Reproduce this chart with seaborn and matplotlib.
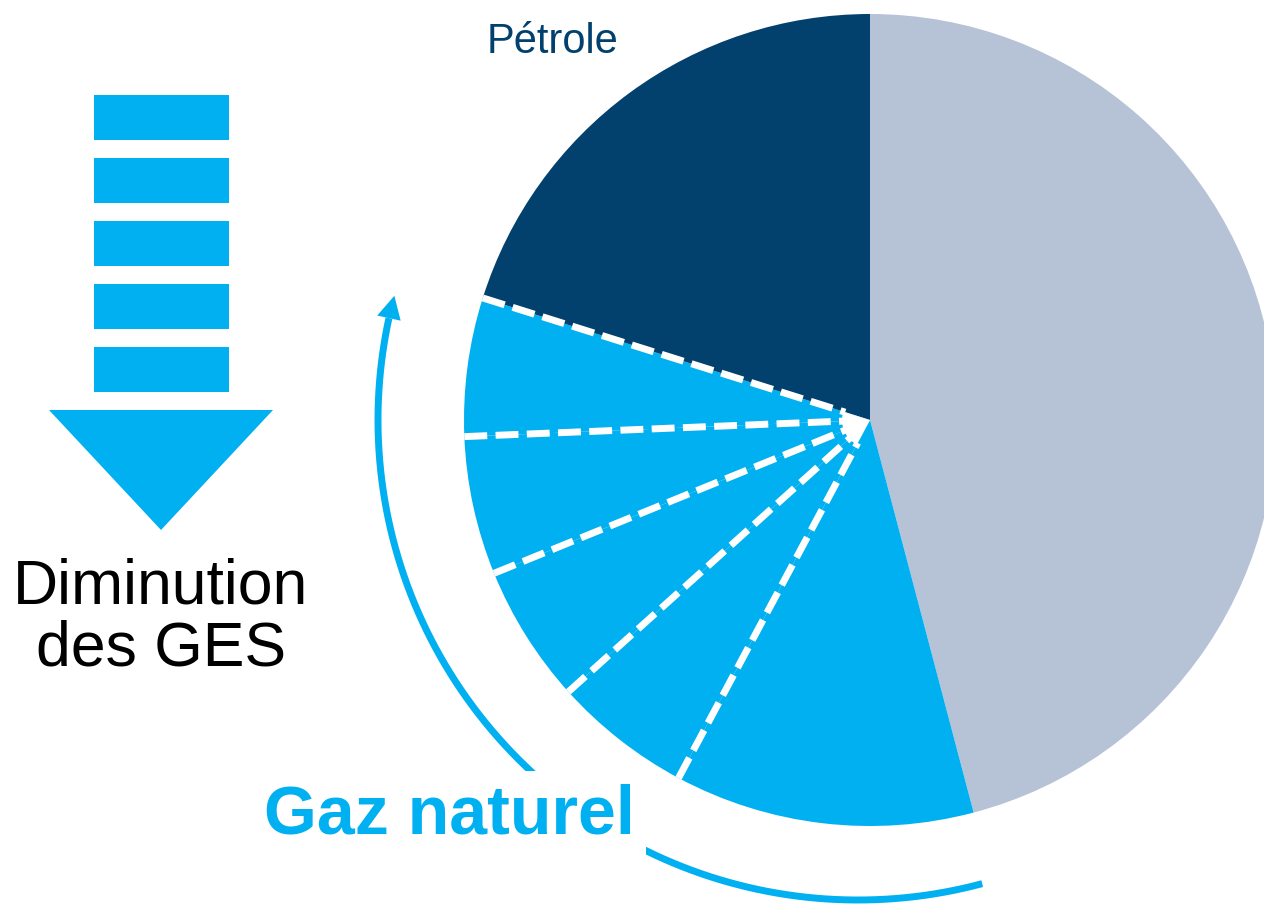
import numpy as np
import matplotlib
matplotlib.use("Agg")
import matplotlib.pyplot as plt
from matplotlib.patches import Rectangle, Polygon, Wedge
import seaborn as sns

# slice data (clockwise from 12 o'clock)
sources = [
    "Autres",
    "Gaz naturel 1",
    "Gaz naturel 2",
    "Gaz naturel 3",
    "Gaz naturel 4",
    "Gaz naturel 5",
    "Pétrole"
]

shares = [45.8, 11.9, 5.5, 5.5, 5.5, 5.5, 20.1]

slice_colors = [
    "#B6C2D6",
    "#00B0F0",
    "#00B0F0",
    "#00B0F0",
    "#00B0F0",
    "#00B0F0",
    "#02406E"
]

sns.set_theme(style="white")
plt.rcParams["font.family"] = ["Liberation Sans", "DejaVu Sans"]

BLUE = "#00B0F0"
NAVY = "#02406E"

W, H = 1264, 906
fig = plt.figure(figsize=(W / 100, H / 100), dpi=100)
ax = fig.add_axes([0, 0, 1, 1])

# pie (pixel coordinates, y measured upward)
cx, cy, R = 870, H - 420, 406
ax.pie(
    shares,
    colors=slice_colors,
    startangle=90,
    counterclock=False,
    radius=R,
    center=(cx, cy),
    wedgeprops=dict(linewidth=0),
    frame=True
)

# dashed white separators between the gas slices and oil
cum = np.cumsum(shares) / np.sum(shares) * 360
bounds = 90 - cum
for a in bounds[1:6]:
    t = np.radians(a)
    ax.plot(
        [cx + R * np.cos(t), cx + 26 * np.cos(t)],
        [cy + R * np.sin(t), cy + 26 * np.sin(t)],
        color="white",
        lw=5,
        linestyle=(0, (3.3, 1.2)),
        dash_capstyle="butt",
        zorder=3
    )

# small white hub where the separators meet
ax.add_patch(Wedge((cx, cy), 28, bounds[5], bounds[1], facecolor="white", edgecolor="none", zorder=4))

# curved arrow around the gas slices
acx, acy, AR = 858, H - 420, 480
head_len, head_half = 23, 12
a_end = -195
a_base = a_end + np.degrees(head_len / AR)
tt = np.radians(np.linspace(-75, a_base, 200))
ax.plot(acx + AR * np.cos(tt), acy + AR * np.sin(tt),
        color=BLUE, lw=5, solid_capstyle="butt", zorder=2)

te, tb = np.radians(a_end), np.radians(a_base)
tip = np.array([acx + AR * np.cos(te), acy + AR * np.sin(te)])
base = np.array([acx + AR * np.cos(tb), acy + AR * np.sin(tb)])
normal = np.array([np.cos(tb), np.sin(tb)])
ax.add_patch(Polygon([tip, base + head_half * normal, base - head_half * normal],
                     closed=True, facecolor=BLUE, edgecolor="none", zorder=2))

# "diminution" arrow on the left
for i in range(5):
    ax.add_patch(Rectangle((94, H - 140 - 63 * i), 135, 45, color=BLUE, lw=0))
ax.add_patch(Polygon([(49, H - 410), (273, H - 410), (161, H - 530)], closed=True, color=BLUE, lw=0))

ax.text(161, H - 603, "Diminution", ha="center", va="baseline", fontsize=45, color="black")
ax.text(161, H - 666, "des GES", ha="center", va="baseline", fontsize=45, color="black")

ax.text(553, H - 53, "Pétrole", ha="center", va="baseline", fontsize=30, color=NAVY)

ax.text(
    449, H - 833, "Gaz naturel",
    ha="center", va="baseline",
    fontsize=49, fontweight="bold", color=BLUE,
    bbox=dict(boxstyle="square,pad=0.17", fc="white", ec="none"),
    zorder=5
)

ax.set_xlim(0, W)
ax.set_ylim(0, H)
ax.set_aspect("auto")
ax.axis("off")

fig.savefig("out.png", dpi=100)
